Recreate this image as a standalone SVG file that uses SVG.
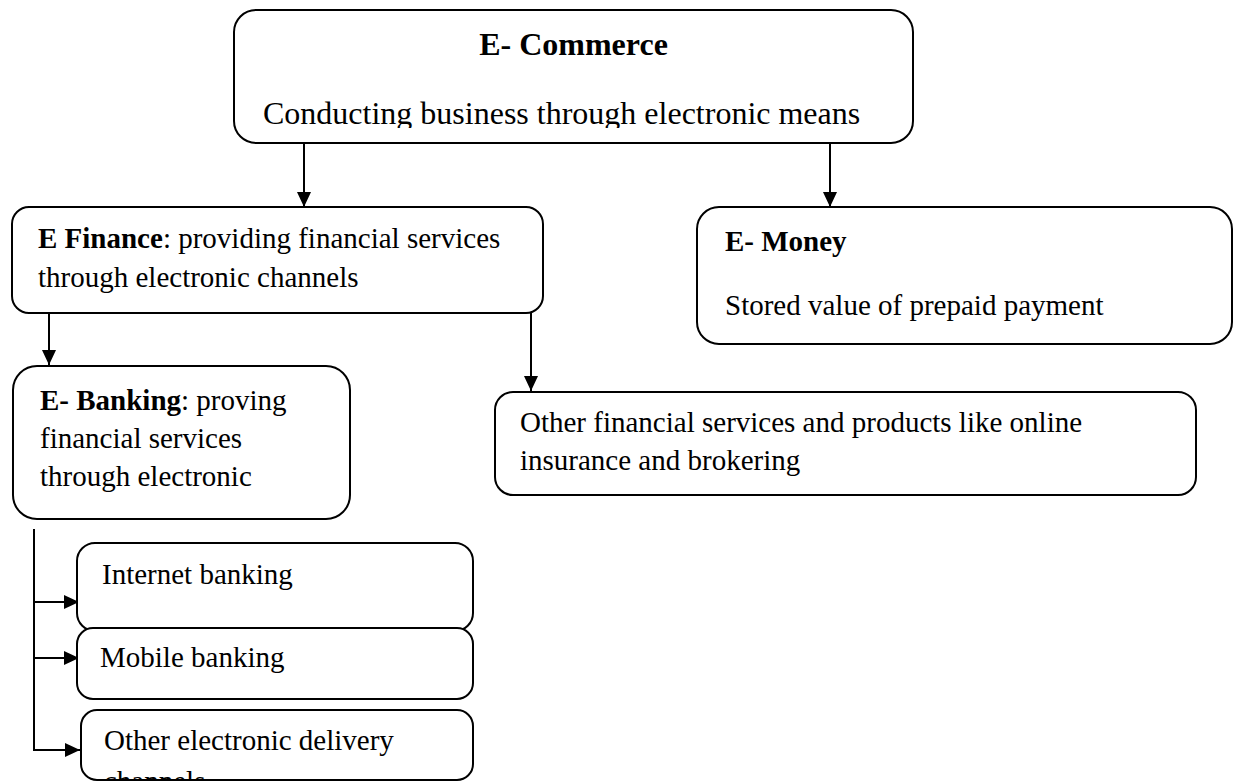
<svg xmlns="http://www.w3.org/2000/svg" width="1233" height="782" viewBox="0 0 1233 782">
  <style>
    .box { fill: #ffffff; stroke: #000000; stroke-width: 2; }
    .txt { font-family: "Liberation Serif", "Times New Roman", serif; font-size: 29px; fill: #000000; }
    .big { font-size: 32px; }
    .b { font-weight: bold; }
    .link { fill: none; stroke: #000000; stroke-width: 2; }
  </style>
  <defs>
    <marker id="arrow" markerUnits="userSpaceOnUse" markerWidth="15" markerHeight="14" refX="15" refY="7" orient="auto">
      <path d="M0,0 L15,7 L0,14 Z" fill="#000000"/>
    </marker>
    <clipPath id="clip-commerce">
      <rect x="234" y="10" width="679" height="118"/>
    </clipPath>
    <clipPath id="clip-delivery">
      <rect x="81" y="710" width="392" height="70"/>
    </clipPath>
  </defs>

  <rect width="1233" height="782" fill="#ffffff"/>

  <!-- connectors -->
  <g id="connectors">
    <path class="link" d="M304,143 V207" marker-end="url(#arrow)"/>
    <path class="link" d="M830,143 V207" marker-end="url(#arrow)"/>
    <path class="link" d="M49,313 V365" marker-end="url(#arrow)"/>
    <path class="link" d="M531,313 V391" marker-end="url(#arrow)"/>
    <path class="link" d="M34,529 V750 H80" marker-end="url(#arrow)"/>
    <path class="link" d="M34,602 H79" marker-end="url(#arrow)"/>
    <path class="link" d="M34,658 H79" marker-end="url(#arrow)"/>
  </g>

  <!-- E-Commerce -->
  <g id="node-ecommerce">
    <rect class="box" x="234" y="10" width="679" height="133" rx="22" ry="22"/>
    <text class="txt big b" x="573.5" y="55" text-anchor="middle">E- Commerce</text>
    <g clip-path="url(#clip-commerce)">
      <text class="txt big" x="263" y="124">Conducting business through electronic means</text>
    </g>
  </g>

  <!-- E Finance -->
  <g id="node-efinance">
    <rect class="box" x="12" y="207" width="531" height="106" rx="17" ry="17"/>
    <text class="txt" x="38" y="248"><tspan class="b">E Finance</tspan>: providing financial services</text>
    <text class="txt" x="38" y="287">through electronic channels</text>
  </g>

  <!-- E-Money -->
  <g id="node-emoney">
    <rect class="box" x="697" y="207" width="535" height="137" rx="22" ry="22"/>
    <text class="txt b" x="725" y="251">E- Money</text>
    <text class="txt" x="725" y="315">Stored value of prepaid payment</text>
  </g>

  <!-- E-Banking -->
  <g id="node-ebanking">
    <rect class="box" x="13" y="366" width="337" height="153" rx="24" ry="24"/>
    <text class="txt" x="40" y="410"><tspan class="b">E- Banking</tspan>: proving</text>
    <text class="txt" x="40" y="448">financial services</text>
    <text class="txt" x="40" y="486">through electronic</text>
  </g>

  <!-- Other financial services -->
  <g id="node-other-financial">
    <rect class="box" x="495" y="392" width="701" height="103" rx="18" ry="18"/>
    <text class="txt" x="520" y="432">Other financial services and products like online</text>
    <text class="txt" x="520" y="470">insurance and brokering</text>
  </g>

  <!-- Internet banking -->
  <g id="node-internet">
    <rect class="box" x="77" y="543" width="396" height="88" rx="18" ry="18"/>
    <text class="txt" x="102" y="584">Internet banking</text>
  </g>

  <!-- Mobile banking -->
  <g id="node-mobile">
    <rect class="box" x="77" y="628" width="396" height="71" rx="16" ry="16"/>
    <text class="txt" x="100" y="667">Mobile banking</text>
  </g>

  <!-- Other electronic delivery channels (second line runs past the box bottom) -->
  <g id="node-delivery">
    <rect class="box" x="81" y="710" width="392" height="70" rx="16" ry="16"/>
    <g clip-path="url(#clip-delivery)">
      <text class="txt" x="104" y="750">Other electronic delivery</text>
      <text class="txt" x="104" y="791">channels</text>
    </g>
  </g>
</svg>
